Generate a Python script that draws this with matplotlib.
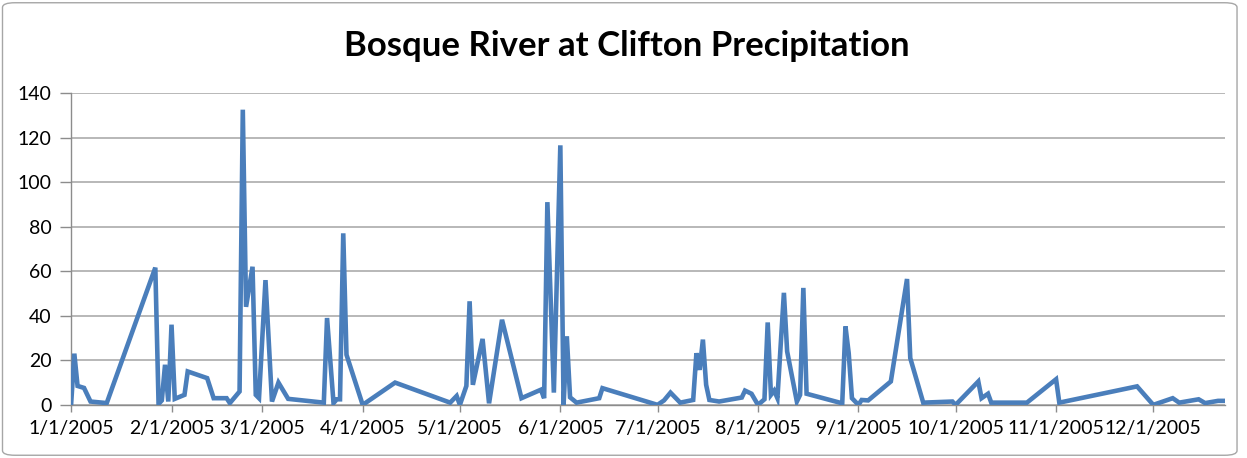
import matplotlib
matplotlib.use("Agg")
import matplotlib.pyplot as plt
import matplotlib.dates as mdates
import pandas as pd
from matplotlib.patches import FancyBboxPatch

# -------------------------------
# Data
# -------------------------------
dates = [
    "2005-01-01", "2005-01-02", "2005-01-03", "2005-01-05", "2005-01-07",
    "2005-01-12", "2005-01-27", "2005-01-28", "2005-01-29", "2005-01-30",
    "2005-01-31", "2005-02-01", "2005-02-02", "2005-02-05", "2005-02-06",
    "2005-02-12", "2005-02-14", "2005-02-18", "2005-02-19", "2005-02-22",
    "2005-02-23", "2005-02-24", "2005-02-26", "2005-02-27", "2005-02-28",
    "2005-03-02", "2005-03-04", "2005-03-06", "2005-03-09", "2005-03-20",
    "2005-03-21", "2005-03-23", "2005-03-24", "2005-03-25", "2005-03-26",
    "2005-03-27", "2005-04-01", "2005-04-11", "2005-04-28", "2005-04-30",
    "2005-05-01", "2005-05-03", "2005-05-04", "2005-05-05", "2005-05-08",
    "2005-05-10", "2005-05-14", "2005-05-20", "2005-05-26", "2005-05-27",
    "2005-05-28", "2005-05-30", "2005-06-01", "2005-06-02", "2005-06-03",
    "2005-06-04", "2005-06-06", "2005-06-13", "2005-06-14", "2005-07-01",
    "2005-07-03", "2005-07-05", "2005-07-08", "2005-07-12", "2005-07-13",
    "2005-07-14", "2005-07-15", "2005-07-16", "2005-07-17", "2005-07-20",
    "2005-07-27", "2005-07-28", "2005-07-30", "2005-08-01", "2005-08-03",
    "2005-08-04", "2005-08-05", "2005-08-06", "2005-08-07", "2005-08-09",
    "2005-08-10", "2005-08-13", "2005-08-14", "2005-08-15", "2005-08-16",
    "2005-08-27", "2005-08-28", "2005-08-29", "2005-08-30", "2005-09-01",
    "2005-09-02", "2005-09-04", "2005-09-11", "2005-09-16", "2005-09-17",
    "2005-09-21", "2005-09-30", "2005-10-01", "2005-10-08", "2005-10-09",
    "2005-10-11", "2005-10-12", "2005-10-23", "2005-11-01", "2005-11-02",
    "2005-11-26", "2005-12-01", "2005-12-07", "2005-12-09", "2005-12-15",
    "2005-12-17", "2005-12-21", "2005-12-23",
]
precip = [
    0, 23, 8.5, 7.6, 1.5,
    0.8, 61.6, 0.4, 2, 18,
    1.5, 36, 2.7, 4.5, 15,
    12, 3, 3, 0.8, 6,
    132.5, 44, 62, 4.5, 3,
    56, 1.5, 10, 2.7, 1,
    39, 0.8, 2.5, 2.5, 77,
    22.5, 0, 10, 1, 4,
    0, 8.5, 46.5, 9, 29.6,
    0.7, 38.2, 3, 6.8, 3,
    91, 5.5, 116.5, 0, 30.8,
    3.4, 1, 3, 7.5, 0,
    2, 5.5, 1, 2.2, 23.2,
    15.7, 29.3, 9, 2.2, 1.5,
    3.3, 6.4, 5, 0, 2.5,
    37, 4.5, 6.4, 3, 50.3,
    24, 1.5, 4.5, 52.5, 5,
    0.7, 35.2, 23.2, 3, 0,
    2.2, 2, 10.5, 56.5, 21,
    1, 1.5, 0, 10.5, 3,
    5, 1, 1, 11.5, 1,
    8.3, 0, 3, 1, 2.5,
    0.8, 1.8, 1.8,
]
title = "Bosque River at Clifton Precipitation"
y_ticks = [0, 20, 40, 60, 80, 100, 120, 140]
month_ticks = pd.date_range("2005-01-01", "2005-12-01", freq="MS")

x = pd.to_datetime(dates)

# -------------------------------
# Figure
# -------------------------------
plt.rcParams["font.family"] = ["Lato", "DejaVu Sans"]
fig = plt.figure(figsize=(12.47, 4.58), dpi=100)
ax = fig.add_axes([0.057, 0.116, 0.925, 0.681])

grid_col = "#b8b8b8"
ax.plot(x, precip, color="#4a7ebb", lw=3.3, solid_joinstyle="miter", zorder=3)

ax.set_ylim(0, 140)
ax.set_yticks(y_ticks)
ax.set_xlim(x[0], x[-1])
ax.set_xticks(month_ticks)
ax.xaxis.set_major_formatter(
    plt.FuncFormatter(lambda v, p: "{d.month}/{d.day}/{d.year}".format(d=mdates.num2date(v)))
)
ax.yaxis.grid(True, color=grid_col, lw=1.4)
ax.set_axisbelow(True)

for s in ["top", "right"]:
    ax.spines[s].set_visible(False)
for s in ["left", "bottom"]:
    ax.spines[s].set_color("#8c8c8c")
    ax.spines[s].set_linewidth(1.0)

ax.tick_params(axis="both", colors="#8c8c8c", labelcolor="black", labelsize=14, width=1.0)
ax.tick_params(axis="y", length=8, pad=6)
ax.tick_params(axis="x", length=5, pad=6)

fig.text(0.503, 0.90, title, ha="center", va="center", fontsize=25, fontweight="bold")

# chart area border
fig.patches.append(FancyBboxPatch((0.002, 0.006), 0.990, 0.988,
                                  boxstyle="round,pad=0,rounding_size=0.01",
                                  transform=fig.transFigure, fill=False,
                                  edgecolor="#a6a6a6", lw=1.0))

fig.savefig("out.png", dpi=100)
plt.close(fig)
